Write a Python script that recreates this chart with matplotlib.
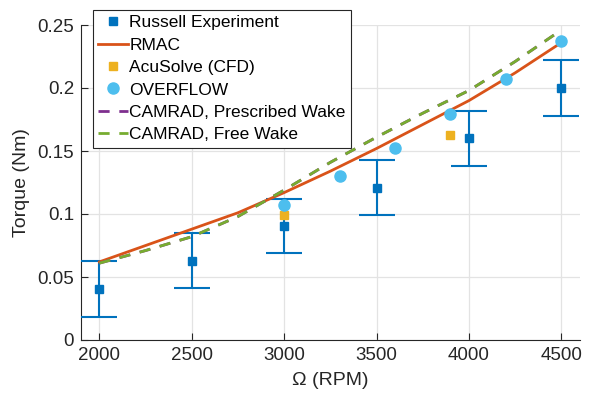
import matplotlib
matplotlib.use('Agg')
import matplotlib.pyplot as plt

# Russell experiment with error bars
rpm_exp = [2000, 2500, 3000, 3500, 4000, 4500]
torque_exp = [0.0405, 0.063, 0.0905, 0.121, 0.160, 0.200]
err_exp = [0.022, 0.022, 0.0215, 0.022, 0.022, 0.022]

# RMAC prediction
rpm_rmac = [2000, 2250, 2500, 2750, 3000, 3250, 3500, 3750, 4000, 4250, 4500]
torque_rmac = [0.062, 0.075, 0.088, 0.101, 0.117, 0.134, 0.152, 0.171, 0.190, 0.212, 0.236]

# AcuSolve (CFD)
rpm_acu = [3000, 3900]
torque_acu = [0.099, 0.163]

# OVERFLOW
rpm_ovf = [3000, 3300, 3600, 3900, 4200, 4500]
torque_ovf = [0.107, 0.130, 0.152, 0.179, 0.207, 0.237]

# CAMRAD (prescribed wake hidden under free wake)
rpm_cam = [2000, 2250, 2500, 2750, 3000, 3250, 3500, 3750, 4000, 4250, 4500]
torque_cam_pw = [0.061, 0.071, 0.082, 0.098, 0.119, 0.141, 0.161, 0.180, 0.198, 0.221, 0.246]
torque_cam_fw = [0.061, 0.071, 0.082, 0.098, 0.119, 0.141, 0.161, 0.180, 0.198, 0.221, 0.246]

plt.rcParams['font.family'] = ['Liberation Sans', 'DejaVu Sans']

fig = plt.figure(figsize=(5.91, 4.0), dpi=100)
ax = fig.add_axes([0.137, 0.15, 0.844, 0.7875])

blue = '#0072BD'
ax.errorbar(rpm_exp, torque_exp, yerr=err_exp, fmt='none', ecolor=blue,
            elinewidth=1.5, capsize=13, capthick=1.5, zorder=3)
h_exp, = ax.plot(rpm_exp, torque_exp, 's', color=blue, markersize=6,
                 linestyle='none', zorder=4, label='Russell Experiment')
h_rmac, = ax.plot(rpm_rmac, torque_rmac, '-', color='#D95319', lw=2,
                  zorder=5, label='RMAC')
h_acu, = ax.plot(rpm_acu, torque_acu, 's', color='#EDB120', markersize=6,
                 linestyle='none', zorder=4, label='AcuSolve (CFD)')
h_ovf, = ax.plot(rpm_ovf, torque_ovf, 'o', color='#4DBEEE', markersize=8,
                 linestyle='none', zorder=6, label='OVERFLOW')
h_pw, = ax.plot(rpm_cam, torque_cam_pw, '--', color='#7E2F8E', lw=2,
                dashes=(4, 3.5), zorder=5, label='CAMRAD, Prescribed Wake')
h_fw, = ax.plot(rpm_cam, torque_cam_fw, '--', color='#77AC30', lw=2,
                dashes=(4, 3.5), zorder=5, label='CAMRAD, Free Wake')

ax.set_xlim(1900, 4600)
ax.set_ylim(0, 0.25)
ax.set_xticks([2000, 2500, 3000, 3500, 4000, 4500])
ax.set_yticks([0, 0.05, 0.1, 0.15, 0.2, 0.25])
ax.set_yticklabels(['0', '0.05', '0.1', '0.15', '0.2', '0.25'])
ax.grid(True, color='#e3e3e3', lw=0.9)
ax.set_axisbelow(True)
for s in ['top', 'right']:
    ax.spines[s].set_visible(False)
for s in ['left', 'bottom']:
    ax.spines[s].set_color('#262626')
    ax.spines[s].set_linewidth(0.8)
ax.tick_params(direction='in', length=5, width=0.8, colors='#262626',
               labelsize=13.5, labelcolor='#262626', pad=5)

ax.set_xlabel('Ω (RPM)', fontsize=14, color='#262626', labelpad=6)
ax.set_ylabel('Torque (Nm)', fontsize=14, color='#262626', labelpad=5)

leg = ax.legend(handles=[h_exp, h_rmac, h_acu, h_ovf, h_pw, h_fw],
                loc='upper left', bbox_to_anchor=(0.024, 1.048),
                borderaxespad=0, fancybox=False, framealpha=1,
                edgecolor='#262626', fontsize=12.5, labelspacing=0.42,
                handlelength=1.7, handletextpad=0.1, borderpad=0.3)
leg.get_frame().set_linewidth(0.8)
leg.set_zorder(10)

plt.savefig('out.png', dpi=100)
plt.close()
